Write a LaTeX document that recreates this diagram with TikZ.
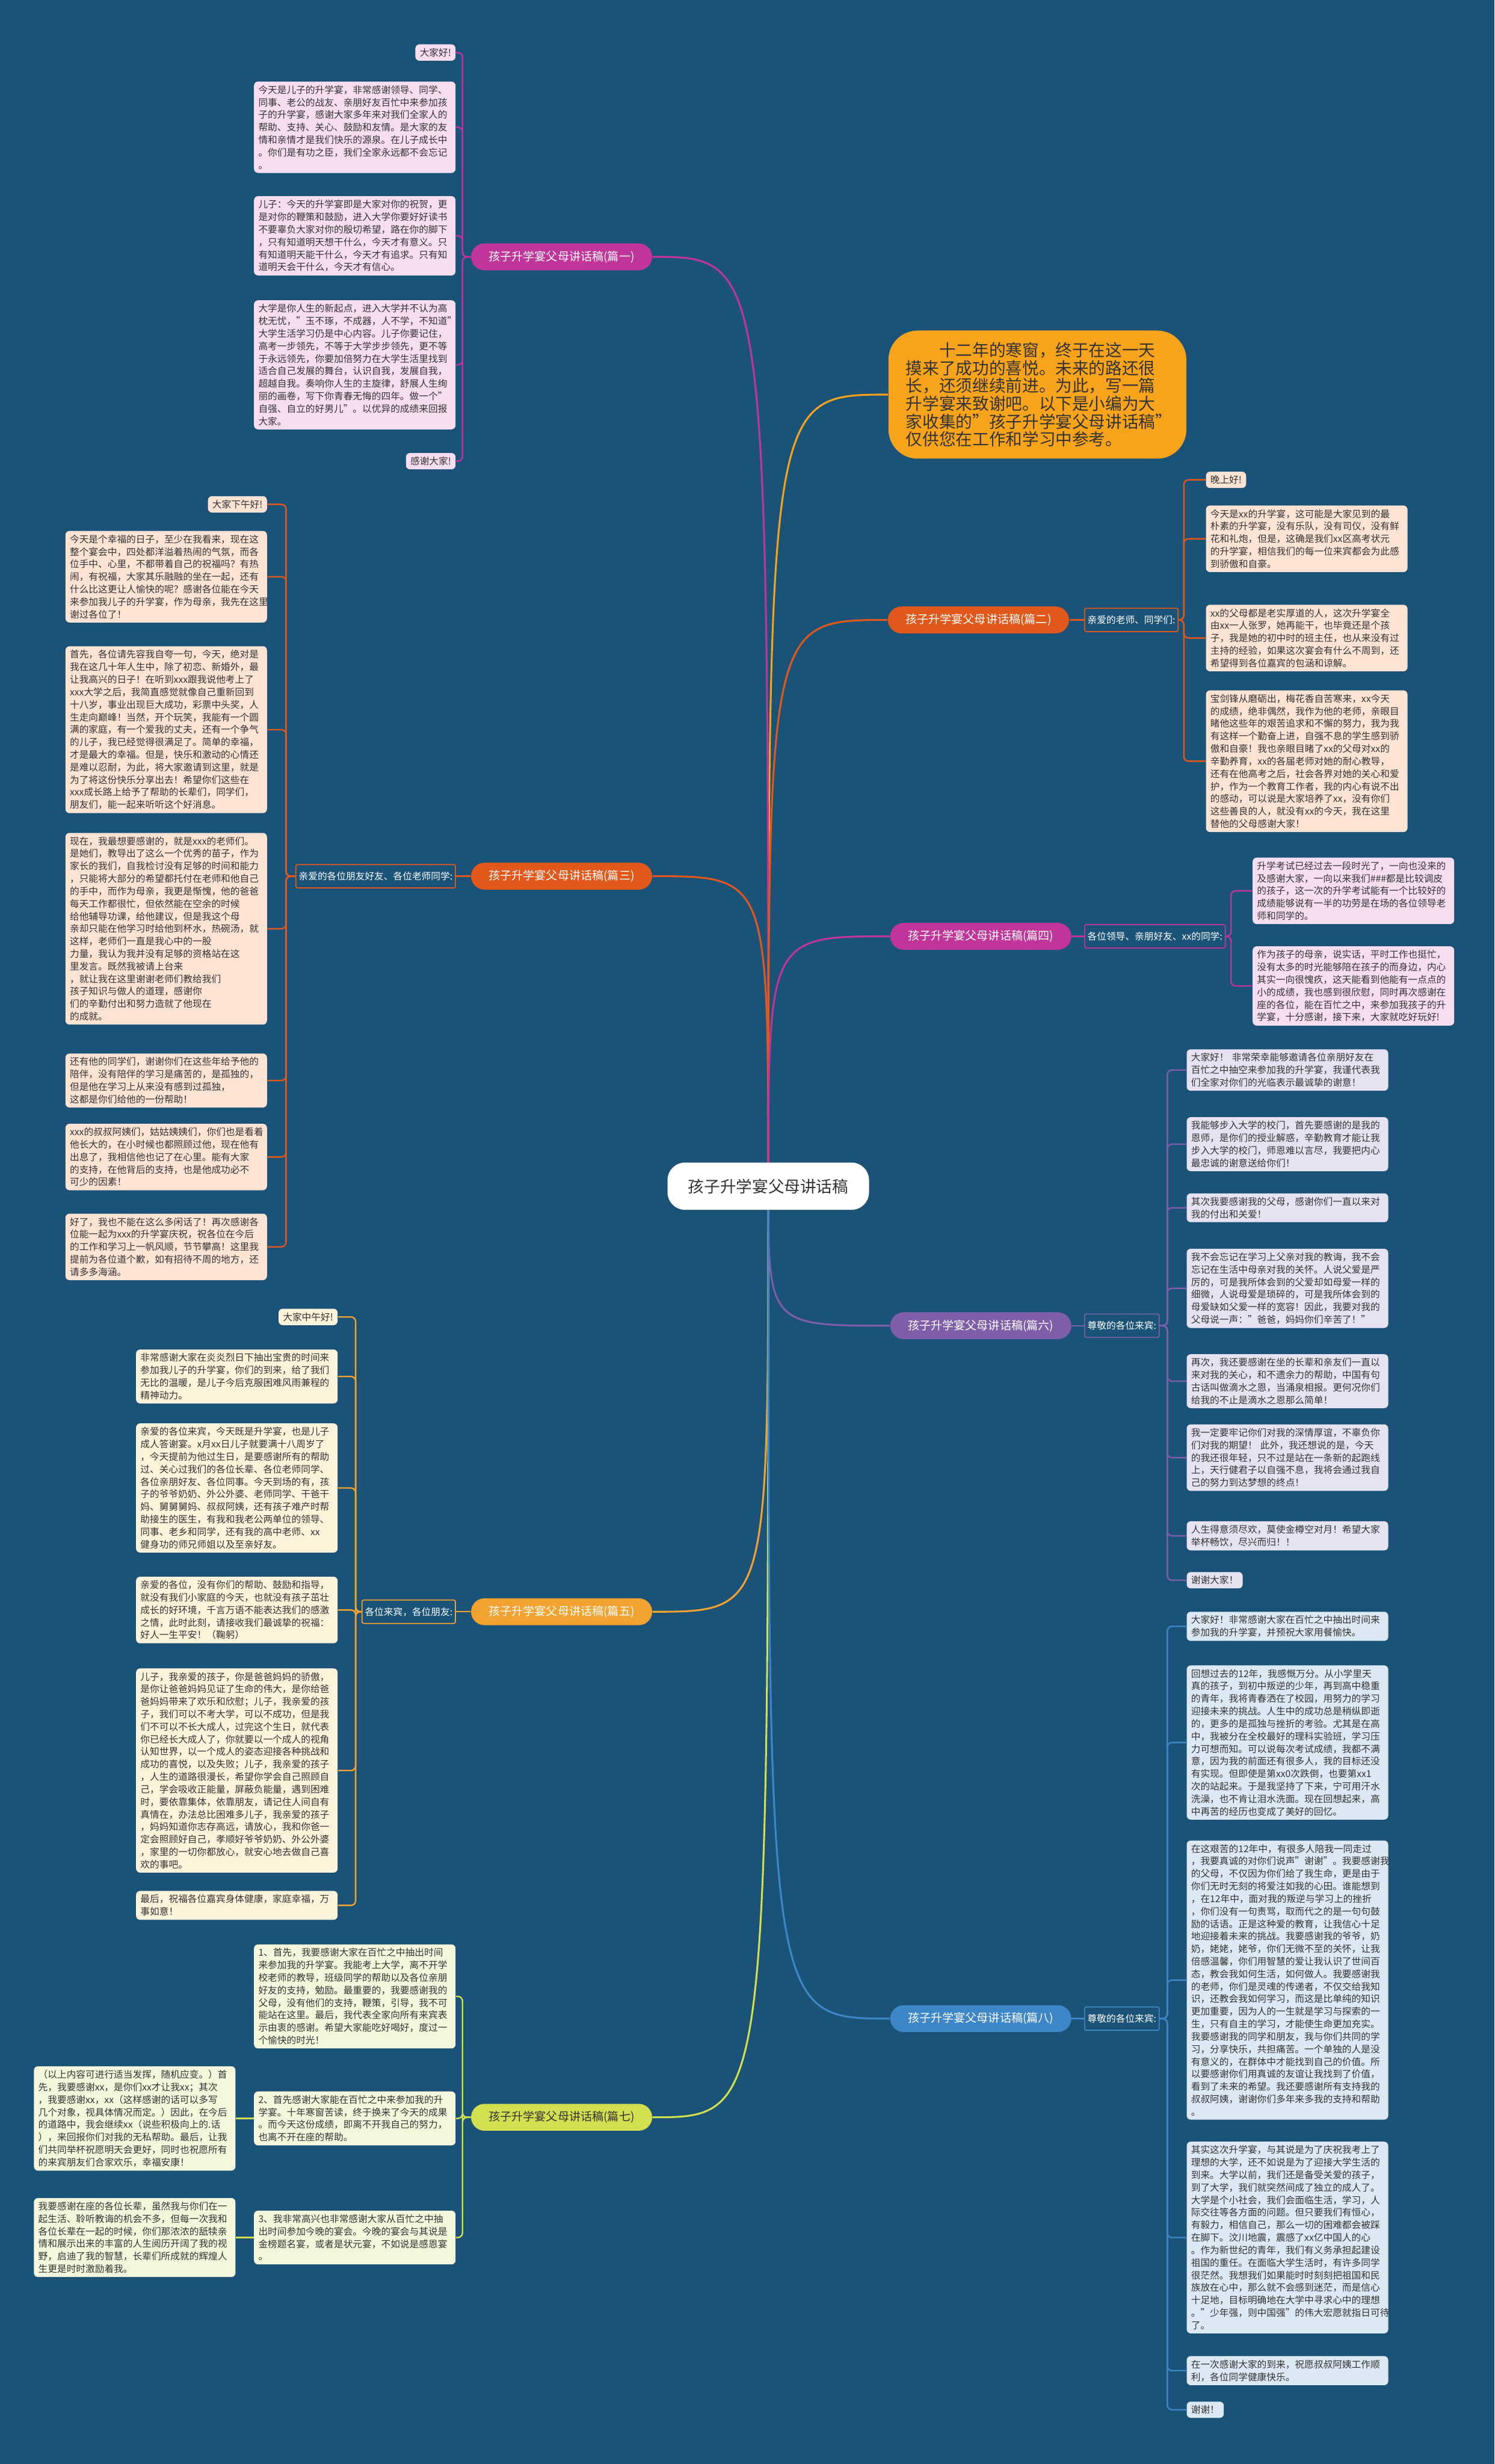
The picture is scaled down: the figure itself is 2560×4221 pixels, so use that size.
\documentclass[tikz,border=0pt]{standalone}
\usepackage{fontspec}
\setmainfont{Noto Sans CJK SC}
\usetikzlibrary{positioning,calc}
\definecolor{bgc}{HTML}{1B5378}
\definecolor{txtc}{HTML}{333333}
\definecolor{magc}{HTML}{C1359A}
\definecolor{orgc}{HTML}{E2581A}
\definecolor{yelc}{HTML}{F2A22E}
\definecolor{purc}{HTML}{7E5EA8}
\definecolor{limc}{HTML}{D2DF4F}
\definecolor{bluc}{HTML}{3D87C9}
\definecolor{introc}{HTML}{F7A31C}
\definecolor{pinkf}{HTML}{F7DDF0}
\definecolor{peachf}{HTML}{FCE3D4}
\definecolor{creamf}{HTML}{FDF2DA}
\definecolor{lavf}{HTML}{E6E2F2}
\definecolor{lyelf}{HTML}{F5F7DC}
\definecolor{lbluf}{HTML}{DCE8F4}
\newcommand{\leaffont}{\fontsize{4.6}{6.1}\selectfont}
\pgfdeclarelayer{backdrop}
\pgfdeclarelayer{links}
\pgfsetlayers{backdrop,links,main}
\tikzset{
  leaf/.style={rounded corners=0.07cm, inner xsep=0.075cm, inner ysep=0.065cm, align=left, text=txtc, font=\leaffont},
  para/.style={text width=3.3cm},
  pill/.style={rounded corners=0.23cm, minimum width=3.1cm, minimum height=0.46cm, text=white, font=\fontsize{5.6}{6.5}\selectfont},
  sublabel/.style={draw, line width=0.5pt, rounded corners=0.03cm, inner xsep=0.05cm, minimum height=0.4cm, text=white, font=\leaffont},
  mainlink/.style={line width=0.9pt},
  leaflink/.style={line width=0.7pt, rounded corners=0.08cm},
}
\begin{document}
\begin{tikzpicture}[x=0.01cm, y=-0.01cm]
\begin{pgfonlayer}{backdrop}
\fill[bgc] (0,0) rectangle (2560,4221);
\end{pgfonlayer}
\useasboundingbox (0,0) rectangle (2560,4221);

% center and intro
\node[fill=white, rounded corners=0.3cm, minimum width=3.45cm, minimum height=0.81cm, text=txtc, font=\fontsize{7.8}{9}\selectfont] (ctr) at (1316,2032) {孩子升学宴父母讲话稿};
\node[fill=introc, rounded corners=0.5cm, text width=4.5cm, inner xsep=0.3cm, inner ysep=0.2cm, align=left, text=txtc, font=\fontsize{8.1}{8.7}\selectfont] (intro) at (1777,676) {\hspace*{2em}十二年的寒窗，终于在这一天\\摸来了成功的喜悦。未来的路还很\\长，还须继续前进。为此，写一篇\\升学宴来致谢吧。以下是小编为大\\家收集的"孩子升学宴父母讲话稿"\\仅供您在工作和学习中参考。};

% branches
\node[pill, fill=magc] (p1) at (962,440) {孩子升学宴父母讲话稿(篇一)};
\node[pill, fill=orgc] (p2) at (1676,1062) {孩子升学宴父母讲话稿(篇二)};
\node[pill, fill=orgc] (p3) at (962,1501) {孩子升学宴父母讲话稿(篇三)};
\node[pill, fill=magc] (p4) at (1680,1604) {孩子升学宴父母讲话稿(篇四)};
\node[pill, fill=yelc] (p5) at (962,2761) {孩子升学宴父母讲话稿(篇五)};
\node[pill, fill=purc] (p6) at (1680,2271) {孩子升学宴父母讲话稿(篇六)};
\node[pill, fill=limc, text=txtc] (p7) at (962,3627) {孩子升学宴父母讲话稿(篇七)};
\node[pill, fill=bluc] (p8) at (1680,3458) {孩子升学宴父母讲话稿(篇八)};

\node[sublabel, draw=orgc, anchor=west] (s2) at (1857,1062) {亲爱的老师、同学们:};
\node[sublabel, draw=orgc, anchor=east] (s3) at (781,1501) {亲爱的各位朋友好友、各位老师同学:};
\node[sublabel, draw=magc, anchor=west] (s4) at (1857,1604) {各位领导、亲朋好友、xx的同学:};
\node[sublabel, draw=yelc, anchor=east] (s5) at (781,2761) {各位来宾，各位朋友:};
\node[sublabel, draw=purc, anchor=west] (s6) at (1857,2271) {尊敬的各位来宾:};
\node[sublabel, draw=bluc, anchor=west] (s8) at (1857,3458) {尊敬的各位来宾:};

% 篇一
\begin{scope}[every node/.style={leaf, fill=pinkf, anchor=east}]
\node (l1a) at (781,90) {大家好!};
\node[para] (l1b) at (781,218) {今天是儿子的升学宴，非常感谢领导、同学、\\同事、老公的战友、亲朋好友百忙中来参加孩\\子的升学宴，感谢大家多年来对我们全家人的\\帮助、支持、关心、鼓励和友情。是大家的友\\情和亲情才是我们快乐的源泉。在儿子成长中\\。你们是有功之臣，我们全家永远都不会忘记\\。};
\node[para] (l1c) at (781,404) {儿子：今天的升学宴即是大家对你的祝贺，更\\是对你的鞭策和鼓励，进入大学你要好好读书\\不要辜负大家对你的殷切希望，路在你的脚下\\，只有知道明天想干什么，今天才有意义。只\\有知道明天能干什么，今天才有追求。只有知\\道明天会干什么，今天才有信心。};
\node[para] (l1d) at (781,625) {大学是你人生的新起点，进入大学并不认为高\\枕无忧，"玉不琢，不成器，人不学，不知道"\\大学生活学习仍是中心内容。儿子你要记住，\\高考一步领先，不等于大学步步领先，更不等\\于永远领先，你要加倍努力在大学生活里找到\\适合自己发展的舞台，认识自我，发展自我，\\超越自我。奏响你人生的主旋律，舒展人生绚\\丽的画卷，写下你青春无悔的四年。做一个"\\自强、自立的好男儿"。以优异的成绩来回报\\大家。};
\node (l1e) at (781,790) {感谢大家!};
\end{scope}

% 篇二
\begin{scope}[every node/.style={leaf, fill=peachf, anchor=west}]
\node (l2a) at (2065,822) {晚上好!};
\node[para] (l2b) at (2065,923) {今天是xx的升学宴，这可能是大家见到的最\\朴素的升学宴，没有乐队，没有司仪，没有鲜\\花和礼炮，但是，这确是我们xx区高考状元\\的升学宴，相信我们的每一位来宾都会为此感\\到骄傲和自豪。};
\node[para] (l2c) at (2065,1093) {xx的父母都是老实厚道的人，这次升学宴全\\由xx一人张罗，她再能干，也毕竟还是个孩\\子，我是她的初中时的班主任，也从来没有过\\主持的经验，如果这次宴会有什么不周到，还\\希望得到各位嘉宾的包涵和谅解。};
\node[para] (l2d) at (2065,1304) {宝剑锋从磨砺出，梅花香自苦寒来，xx今天\\的成绩，绝非偶然，我作为他的老师，亲眼目\\睹他这些年的艰苦追求和不懈的努力，我为我\\有这样一个勤奋上进，自强不息的学生感到骄\\傲和自豪！我也亲眼目睹了xx的父母对xx的\\辛勤养育，xx的各届老师对她的耐心教导，\\还有在他高考之后，社会各界对她的关心和爱\\护，作为一个教育工作者，我的内心有说不出\\的感动，可以说是大家培养了xx，没有你们\\这些善良的人，就没有xx的今天，我在这里\\替他的父母感谢大家！};
\end{scope}

% 篇三
\begin{scope}[every node/.style={leaf, fill=peachf, anchor=east}]
\node (l3a) at (458,864) {大家下午好!};
\node[para] (l3b) at (458,988) {今天是个幸福的日子，至少在我看来，现在这\\整个宴会中，四处都洋溢着热闹的气氛，而各\\位手中、心里，不都带着自己的祝福吗？有热\\闹，有祝福，大家其乐融融的坐在一起，还有\\什么比这更让人愉快的呢？感谢各位能在今天\\来参加我儿子的升学宴，作为母亲，我先在这里\\谢过各位了！};
\node[para] (l3c) at (458,1250) {首先，各位请先容我自夸一句，今天，绝对是\\我在这几十年人生中，除了初恋、新婚外，最\\让我高兴的日子！在听到xxx跟我说他考上了\\xxx大学之后，我简直感觉就像自己重新回到\\十八岁，事业出现巨大成功，彩票中头奖，人\\生走向巅峰！当然，开个玩笑，我能有一个圆\\满的家庭，有一个爱我的丈夫，还有一个争气\\的儿子，我已经觉得很满足了。简单的幸福，\\才是最大的幸福。但是，快乐和激动的心情还\\是难以忍耐，为此，将大家邀请到这里，就是\\为了将这份快乐分享出去！希望你们这些在\\xxx成长路上给予了帮助的长辈们，同学们，\\朋友们，能一起来听听这个好消息。};
\node[para] (l3d) at (458,1591) {现在，我最想要感谢的，就是xxx的老师们。\\是她们，教导出了这么一个优秀的苗子，作为\\家长的我们，自我检讨没有足够的时间和能力\\，只能将大部分的希望都托付在老师和他自己\\的手中，而作为母亲，我更是惭愧，他的爸爸\\每天工作都很忙，但依然能在空余的时候\\给他辅导功课，给他建议，但是我这个母\\亲却只能在他学习时给他到杯水，热碗汤，就\\这样，老师们一直是我心中的一股\\力量，我认为我并没有足够的资格站在这\\里发言。既然我被请上台来\\，就让我在这里谢谢老师们教给我们\\孩子知识与做人的道理，感谢你\\们的辛勤付出和努力造就了他现在\\的成就。};
\node[para] (l3e) at (458,1851) {还有他的同学们，谢谢你们在这些年给予他的\\陪伴，没有陪伴的学习是痛苦的，是孤独的，\\但是他在学习上从来没有感到过孤独，\\这都是你们给他的一份帮助！};
\node[para] (l3f) at (458,1982) {xxx的叔叔阿姨们，姑姑姨姨们，你们也是看着\\他长大的，在小时候也都照顾过他，现在他有\\出息了，我相信他也记了在心里。能有大家\\的支持，在他背后的支持，也是他成功必不\\可少的因素！};
\node[para] (l3g) at (458,2136) {好了，我也不能在这么多闲话了！再次感谢各\\位能一起为xxx的升学宴庆祝，祝各位在今后\\的工作和学习上一帆风顺，节节攀高！这里我\\提前为各位道个歉，如有招待不周的地方，还\\请多多海涵。};
\end{scope}

% 篇四
\begin{scope}[every node/.style={leaf, fill=pinkf, anchor=west}]
\node[para] (l4a) at (2145,1526) {升学考试已经过去一段时光了，一向也没来的\\及感谢大家，一向以来我们\#\#\#都是比较调皮\\的孩子，这一次的升学考试能有一个比较好的\\成绩能够说有一半的功劳是在场的各位领导老\\师和同学的。};
\node[para] (l4b) at (2145,1689) {作为孩子的母亲，说实话，平时工作也挺忙，\\没有太多的时光能够陪在孩子的而身边，内心\\其实一向很愧疚，这天能看到他能有一点点的\\小的成绩，我也感到很欣慰，同时再次感谢在\\座的各位，能在百忙之中，来参加我孩子的升\\学宴，十分感谢，接下来，大家就吃好玩好!};
\end{scope}

% 篇五
\begin{scope}[every node/.style={leaf, fill=creamf, anchor=east}]
\node (l5a) at (579,2256) {大家中午好!};
\node[para] (l5b) at (579,2358) {非常感谢大家在炎炎烈日下抽出宝贵的时间来\\参加我儿子的升学宴，你们的到来，给了我们\\无比的温暖，是儿子今后克服困难风雨兼程的\\精神动力。};
\node[para] (l5c) at (579,2549) {亲爱的各位来宾，今天既是升学宴，也是儿子\\成人答谢宴。x月xx日儿子就要满十八周岁了\\，今天提前为他过生日，是要感谢所有的帮助\\过、关心过我们的各位长辈、各位老师同学、\\各位亲朋好友、各位同事。今天到场的有，孩\\子的爷爷奶奶、外公外婆、老师同学、干爸干\\妈、舅舅舅妈、叔叔阿姨，还有孩子难产时帮\\助接生的医生，有我和我老公两单位的领导、\\同事、老乡和同学，还有我的高中老师、xx\\健身功的师兄师姐以及至亲好友。};
\node[para] (l5d) at (579,2758) {亲爱的各位，没有你们的帮助、鼓励和指导，\\就没有我们小家庭的今天，也就没有孩子茁壮\\成长的好环境，千言万语不能表达我们的感激\\之情，此时此刻，请接收我们最诚挚的祝福：\\好人一生平安！（鞠躬）};
\node[para] (l5e) at (579,3033) {儿子，我亲爱的孩子，你是爸爸妈妈的骄傲，\\是你让爸爸妈妈见证了生命的伟大，是你给爸\\爸妈妈带来了欢乐和欣慰；儿子，我亲爱的孩\\子，我们可以不考大学，可以不成功，但是我\\们不可以不长大成人，过完这个生日，就代表\\你已经长大成人了，你就要以一个成人的视角\\认知世界，以一个成人的姿态迎接各种挑战和\\成功的喜悦，以及失败；儿子，我亲爱的孩子\\，人生的道路很漫长，希望你学会自己照顾自\\己，学会吸收正能量，屏蔽负能量，遇到困难\\时，要依靠集体，依靠朋友，请记住人间自有\\真情在，办法总比困难多儿子，我亲爱的孩子\\，妈妈知道你志存高远，请放心，我和你爸一\\定会照顾好自己，孝顺好爷爷奶奶、外公外婆\\，家里的一切你都放心，就安心地去做自己喜\\欢的事吧。};
\node[para] (l5f) at (579,3264) {最后，祝福各位嘉宾身体健康，家庭幸福，万\\事如意！};
\end{scope}

% 篇六
\begin{scope}[every node/.style={leaf, fill=lavf, anchor=west}]
\node[para] (l6a) at (2032,1833) {大家好！ 非常荣幸能够邀请各位亲朋好友在\\百忙之中抽空来参加我的升学宴，我谨代表我\\们全家对你们的光临表示最诚挚的谢意！};
\node[para] (l6b) at (2032,1960) {我能够步入大学的校门，首先要感谢的是我的\\恩师，是你们的授业解惑，辛勤教育才能让我\\步入大学的校门，师恩难以言尽，我要把内心\\最忠诚的谢意送给你们！};
\node[para] (l6c) at (2032,2069) {其次我要感谢我的父母，感谢你们一直以来对\\我的付出和关爱！};
\node[para] (l6d) at (2032,2207) {我不会忘记在学习上父亲对我的教诲，我不会\\忘记在生活中母亲对我的关怀。人说父爱是严\\厉的，可是我所体会到的父爱却如母爱一样的\\细微，人说母爱是琐碎的，可是我所体会到的\\母爱缺如父爱一样的宽容！因此，我要对我的\\父母说一声："爸爸，妈妈你们辛苦了！"};
\node[para] (l6e) at (2032,2366) {再次，我还要感谢在坐的长辈和亲友们一直以\\来对我的关心，和不遗余力的帮助，中国有句\\古话叫做滴水之恩，当涌泉相报。更何况你们\\给我的不止是滴水之恩那么简单！};
\node[para] (l6f) at (2032,2497) {我一定要牢记你们对我的深情厚谊，不辜负你\\们对我的期望！ 此外，我还想说的是，今天\\的我还很年轻，只不过是站在一条新的起跑线\\上，天行健君子以自强不息，我将会通过我自\\己的努力到达梦想的终点！};
\node[para] (l6g) at (2032,2631) {人生得意须尽欢，莫使金樽空对月！希望大家\\举杯畅饮，尽兴而归！！};
\node (l6h) at (2032,2707) {谢谢大家！};
\end{scope}

% 篇七
\begin{scope}[every node/.style={leaf, fill=lyelf, anchor=east}]
\node[para] (l7a) at (781,3420) {1、首先，我要感谢大家在百忙之中抽出时间\\来参加我的升学宴。我能考上大学，离不开学\\校老师的教导，班级同学的帮助以及各位亲朋\\好友的支持，勉励。最重要的，我要感谢我的\\父母，没有他们的支持，鞭策，引导，我不可\\能站在这里。最后，我代表全家向所有来宾表\\示由衷的感谢。希望大家能吃好喝好，度过一\\个愉快的时光！};
\node[para] (l7b) at (781,3629) {2、首先感谢大家能在百忙之中来参加我的升\\学宴。十年寒窗苦读，终于换来了今天的成果\\。而今天这份成绩，即离不开我自己的努力，\\也离不开在座的帮助。};
\node[para] (l7c) at (781,3833) {3、我非常高兴也非常感谢大家从百忙之中抽\\出时间参加今晚的宴会。今晚的宴会与其说是\\金榜题名宴，或者是状元宴，不如说是感恩宴\\。};
\node[para] (l7d) at (404,3629) {（以上内容可进行适当发挥，随机应变。）首\\先，我要感谢xx，是你们xx才让我xx；其次\\，我要感谢xx，xx（这样感谢的话可以多写\\几个对象，视具体情况而定。）因此，在今后\\的道路中，我会继续xx（说些积极向上的.话\\），来回报你们对我的无私帮助。最后，让我\\们共同举杯祝愿明天会更好，同时也祝愿所有\\的来宾朋友们合家欢乐，幸福安康！};
\node[para] (l7e) at (404,3833) {我要感谢在座的各位长辈，虽然我与你们在一\\起生活、聆听教诲的机会不多，但每一次我和\\各位长辈在一起的时候，你们那浓浓的舐犊亲\\情和展示出来的丰富的人生阅历开阔了我的视\\野，启迪了我的智慧，长辈们所成就的辉煌人\\生更是时时激励着我。};
\end{scope}

% 篇八
\begin{scope}[every node/.style={leaf, fill=lbluf, anchor=west}]
\node[para] (l8a) at (2032,2786) {大家好！非常感谢大家在百忙之中抽出时间来\\参加我的升学宴，并预祝大家用餐愉快。};
\node[para] (l8b) at (2032,2985) {回想过去的12年，我感慨万分。从小学里天\\真的孩子，到初中叛逆的少年，再到高中稳重\\的青年，我将青春洒在了校园，用努力的学习\\迎接未来的挑战。人生中的成功总是稍纵即逝\\的，更多的是孤独与挫折的考验。尤其是在高\\中，我被分在全校最好的理科实验班，学习压\\力可想而知。可以说每次考试成绩，我都不满\\意，因为我的前面还有很多人，我的目标还没\\有实现。但即使是第xx0次跌倒，也要第xx1\\次的站起来。于是我坚持了下来，宁可用汗水\\洗澡，也不肯让泪水洗面。现在回想起来，高\\中再苦的经历也变成了美好的回忆。};
\node[para] (l8c) at (2032,3392) {在这艰苦的12年中，有很多人陪我一同走过\\，我要真诚的对你们说声"谢谢"。我要感谢我\\的父母，不仅因为你们给了我生命，更是由于\\你们无时无刻的将爱注如我的心田。谁能想到\\，在12年中，面对我的叛逆与学习上的挫折\\，你们没有一句责骂，取而代之的是一句句鼓\\励的话语。正是这种爱的教育，让我信心十足\\地迎接着未来的挑战。我要感谢我的爷爷，奶\\奶，姥姥，姥爷，你们无微不至的关怀，让我\\倍感温馨，你们用智慧的爱让我认识了世间百\\态，教会我如何生活，如何做人。我要感谢我\\的老师，你们是灵魂的传递者，不仅交给我知\\识，还教会我如何学习，而这是比单纯的知识\\更加重要，因为人的一生就是学习与探索的一\\生，只有自主的学习，才能使生命更加充实。\\我要感谢我的同学和朋友，我与你们共同的学\\习，分享快乐，共担痛苦。一个单独的人是没\\有意义的，在群体中才能找到自己的价值。所\\以要感谢你们用真诚的友谊让我找到了价值，\\看到了未来的希望。我还要感谢所有支持我的\\叔叔阿姨，谢谢你们多年来多我的支持和帮助\\。};
\node[para] (l8d) at (2032,3833) {其实这次升学宴，与其说是为了庆祝我考上了\\理想的大学，还不如说是为了迎接大学生活的\\到来。大学以前，我们还是备受关爱的孩子，\\到了大学，我们就突然间成了独立的成人了。\\大学是个小社会，我们会面临生活，学习，人\\际交往等各方面的问题。但只要我们有恒心，\\有毅力，相信自己，那么一切的困难都会被踩\\在脚下。汶川地震，震感了xx亿中国人的心\\。作为新世纪的青年，我们有义务承担起建设\\祖国的重任。在面临大学生活时，有许多同学\\很茫然。我想我们如果能时时刻刻把祖国和民\\族放在心中，那么就不会感到迷茫，而是信心\\十足地，目标明确地在大学中寻求心中的理想\\。"少年强，则中国强"的伟大宏愿就指日可待\\了。};
\node[para] (l8e) at (2032,4061) {在一次感谢大家的到来，祝愿叔叔阿姨工作顺\\利，各位同学健康快乐。};
\node (l8f) at (2032,4128) {谢谢！};
\end{scope}

% connectors
\begin{pgfonlayer}{links}
\draw[mainlink, introc] (ctr.center) .. controls (ctr.center |- intro.west) .. (intro.west);
\foreach \p/\c in {p1/magc, p3/orgc, p5/yelc, p7/limc}
  \draw[mainlink, \c] (ctr.center) .. controls (ctr.center |- \p.east) .. (\p.east);
\foreach \p/\c in {p2/orgc, p4/magc, p6/purc, p8/bluc}
  \draw[mainlink, \c] (ctr.center) .. controls (ctr.center |- \p.west) .. (\p.west);
\draw[leaflink, orgc] (p2.east) -- (s2.west);
\draw[leaflink, orgc] (p3.west) -- (s3.east);
\draw[leaflink, magc] (p4.east) -- (s4.west);
\draw[leaflink, yelc] (p5.west) -- (s5.east);
\draw[leaflink, purc] (p6.east) -- (s6.west);
\draw[leaflink, bluc] (p8.east) -- (s8.west);
\foreach \n in {l1a,l1b,l1c,l1d,l1e}
  \draw[leaflink, magc] (p1.west) -- ++(-14,0) |- (\n.east);
\foreach \n in {l2a,l2b,l2c,l2d}
  \draw[leaflink, orgc] (s2.east) -- ++(9,0) |- (\n.west);
\foreach \n in {l3a,l3b,l3c,l3d,l3e,l3f,l3g}
  \draw[leaflink, orgc] (s3.west) -- ++(-16,0) |- (\n.east);
\foreach \n in {l4a,l4b}
  \draw[leaflink, magc] (s4.east) -- ++(9,0) |- (\n.west);
\foreach \n in {l5a,l5b,l5c,l5d,l5e,l5f}
  \draw[leaflink, yelc] (s5.west) -- ++(-10,0) |- (\n.east);
\foreach \n in {l6a,l6b,l6c,l6d,l6e,l6f,l6g,l6h}
  \draw[leaflink, purc] (s6.east) -- ++(13,0) |- (\n.west);
\foreach \n in {l7a,l7b,l7c}
  \draw[leaflink, limc] (p7.west) -- ++(-14,0) |- (\n.east);
\draw[leaflink, limc] (l7b.west) -- (l7d.east);
\draw[leaflink, limc] (l7c.west) -- (l7e.east);
\foreach \n in {l8a,l8b,l8c,l8d,l8e,l8f}
  \draw[leaflink, bluc] (s8.east) -- ++(13,0) |- (\n.west);
\end{pgfonlayer}
\end{tikzpicture}
\end{document}
